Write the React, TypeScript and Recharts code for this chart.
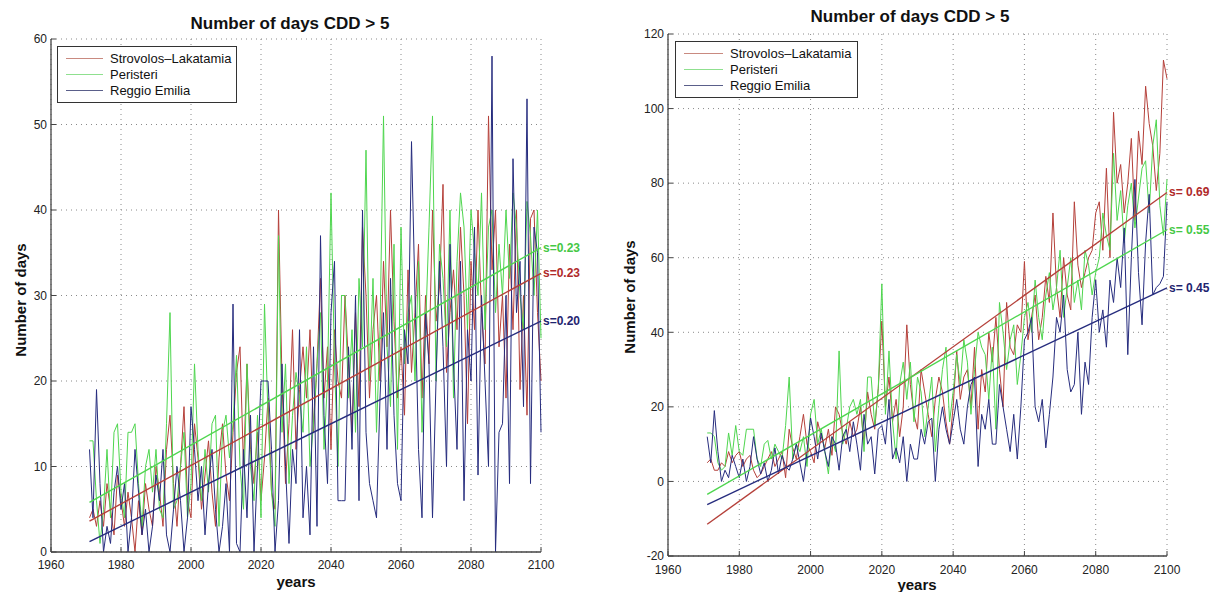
import React from "react";
import { LineChart, Line, XAxis, YAxis, CartesianGrid, Legend, LabelList } from "recharts";

// years 1971..2100
const YEARS = Array.from({ length: 130 }, (_, i) => 1971 + i);
const X_TICKS = [1960, 1980, 2000, 2020, 2040, 2060, 2080, 2100];
const LEFT_Y_TICKS = [0, 10, 20, 30, 40, 50, 60];
const RIGHT_Y_TICKS = [-20, 0, 20, 40, 60, 80, 100, 120];
const TREND_YEARS = [1971, 2100];

const NAMES = ["Strovolos\u2013Lakatamia", "Peristeri", "Reggio Emilia"];
const COLORS = ["#b5403a", "#4fd64f", "#262c7e"];
const LEGEND_COLORS = ["#c98a80", "#8fe08f", "#5a5f8a"];
const LABEL_COLORS = ["#b02a2a", "#45c845", "#1f2570"];

// left panel
const LEFT_STROVOLOS = [
  4, 5, 3, 6, 3, 8, 5, 2, 9, 6,
  3, 7, 4, 0, 6, 2, 8, 5, 3, 10,
  7, 3, 12, 16, 8, 3, 10, 17, 6, 4,
  15, 11, 5, 9, 13, 7, 3, 11, 15, 9,
  6, 14, 21, 24, 10, 22, 12, 8, 14, 6,
  11, 18, 7, 5, 40, 20, 8, 15, 26, 12,
  19, 24, 18, 26, 14, 22, 32, 18, 24, 12,
  26, 20, 18, 30, 22, 14, 28, 17, 38, 30,
  18, 26, 30, 20, 34, 24, 40, 27, 18, 24,
  16, 33, 21, 28, 36, 18, 30, 22, 40, 27,
  31, 43, 21, 28, 33, 26, 38, 30, 15, 34,
  26, 40, 28, 22, 51, 33, 40, 24, 30, 18,
  36, 26, 40, 19, 30, 16, 39, 40, 28, 20,
];
const LEFT_PERISTERI = [
  13, 13, 6, 1, 5, 12, 4, 14, 15, 7,
  4, 14, 14, 15, 8, 3, 10, 12, 7, 12,
  5, 4, 15, 28, 5, 6, 10, 14, 4, 8,
  22, 12, 6, 12, 7, 15, 16, 3, 14, 16,
  11, 15, 23, 10, 5, 22, 10, 6, 16, 4,
  29, 16, 7, 3, 37, 14, 22, 8, 16, 21,
  18, 14, 24, 10, 15, 22, 28, 12, 20, 42,
  22, 10, 30, 30, 18, 26, 14, 32, 24, 47,
  20, 32, 14, 26, 51, 24, 17, 36, 12, 38,
  22, 28, 30, 20, 34, 14, 26, 38, 51, 20,
  36, 32, 24, 40, 18, 34, 42, 38, 26, 40,
  35, 30, 42, 26, 38, 40, 28, 36, 30, 40,
  32, 42, 38, 30, 26, 41, 37, 30, 40, 25,
];
const LEFT_REGGIO = [
  12, 4, 19, 8, 0, 3, 1, 7, 10, 5,
  8, 0, 4, 12, 7, 2, 5, 0, 3, 9,
  6, 12, 2, 0, 5, 10, 6, 0, 4, 17,
  12, 6, 10, 2, 8, 12, 5, 0, 3, 8,
  0, 29, 1, 0, 12, 4, 16, 0, 10, 20,
  20, 20, 12, 0, 6, 22, 10, 1, 12, 8,
  26, 4, 10, 2, 24, 3, 37, 16, 8, 28,
  34, 6, 6, 6, 24, 12, 30, 6, 40, 14,
  8, 6, 4, 18, 28, 12, 32, 16, 8, 6,
  26, 22, 48, 30, 12, 4, 28, 22, 4, 20,
  34, 24, 10, 36, 22, 12, 34, 6, 26, 20,
  38, 9, 30, 20, 10, 58, 0, 14, 15, 30,
  8, 46, 28, 34, 17, 53, 8, 38, 35, 14,
];
const LEFT_TREND_STROVOLOS = [3.6, 32.6];
const LEFT_TREND_PERISTERI = [5.8, 35.6];
const LEFT_TREND_REGGIO = [1.2, 27.0];
const LEFT_SLOPES = ["s=0.23", "s=0.23", "s=0.20"];

// right panel
const RIGHT_STROVOLOS = [
  5, 6, 3, 3, 5, 4, 8, 5, 7, 8,
  4, 6, 7, 3, 1, 2, 4, 6, 8, 4,
  6, 8, 1, 14, 9, 6, 12, 18, 10, 8,
  5, 16, 12, 9, 14, 7, 20, 18, 13, 10,
  16, 12, 14, 20, 10, 24, 18, 14, 25, 43,
  20, 28, 16, 22, 12, 20, 42, 26, 18, 14,
  30, 24, 18, 12, 22, 28, 24, 16, 10, 20,
  35, 22, 28, 30, 20, 36, 14, 30, 24, 40,
  32, 44, 30, 20, 48, 36, 34, 42, 40, 59,
  38, 44, 50, 38, 44, 55, 48, 72, 52, 44,
  60, 50, 46, 75, 58, 52, 56, 60, 62, 72,
  75, 62, 84, 60, 99, 80, 85, 72, 80, 92,
  70, 94, 85, 106, 96, 90, 78, 88, 113, 108,
];
const RIGHT_PERISTERI = [
  13, 13, 12, 5, 3, 4, 13, 7, 15, 8,
  7, 14, 14, 14, 6, 4, 10, 11, 6, 10,
  8, 6, 15, 28, 6, 10, 8, 12, 4, 18,
  22, 10, 14, 8, 2, 12, 8, 35, 10, 14,
  20, 22, 18, 22, 8, 28, 28, 15, 25, 53,
  18, 35, 16, 6, 26, 32, 22, 32, 16, 28,
  24, 12, 20, 28, 8, 20, 30, 36, 16, 24,
  34, 26, 38, 32, 18, 30, 40, 36, 34, 22,
  36, 14, 48, 40, 30, 38, 42, 26, 34, 44,
  48, 40, 54, 44, 38, 50, 56, 46, 52, 62,
  44, 52, 60, 48, 54, 46, 62, 58, 50, 56,
  60, 72, 66, 62, 88, 70, 78, 64, 74, 80,
  68, 76, 84, 86, 72, 90, 97, 74, 66, 81,
];
const RIGHT_REGGIO = [
  12, 5, 19, 8, 0, 3, 1, 7, 4, 1,
  6, 0, 4, 12, 6, 2, 5, 0, 3, 9,
  2, 7, 4, 3, 6, 10, 5, 0, 8, 17,
  12, 6, 13, 8, 4, 12, 10, 3, 12, 14,
  8, 16, 10, 3, 18, 10, 12, 2, 14, 15,
  10, 22, 6, 9, 5, 12, 0, 10, 6, 6,
  14, 10, 16, 17, 0, 14, 20, 14, 10, 16,
  22, 14, 10, 20, 26, 28, 4, 18, 14, 22,
  10, 10, 26, 20, 14, 8, 18, 6, 20, 38,
  40, 44, 20, 16, 22, 9, 18, 28, 44, 40,
  50, 30, 24, 26, 40, 18, 32, 26, 44, 54,
  40, 46, 36, 54, 48, 60, 52, 68, 34, 60,
  81, 56, 42, 64, 77, 50, 52, 53, 55, 75,
];
const RIGHT_TREND_STROVOLOS = [-11.5, 77.5];
const RIGHT_TREND_PERISTERI = [-3.5, 67.5];
const RIGHT_TREND_REGGIO = [-6.2, 51.9];
const RIGHT_SLOPES = ["s= 0.69", "s= 0.55", "s= 0.45"];

const FONT = "'Liberation Sans', Arial, Helvetica, sans-serif";

function buildRows(a: number[], b: number[], c: number[]) {
  return YEARS.map((year, i) => ({ year, s0: a[i], s1: b[i], s2: c[i] }));
}
function buildTrend(v: number[]) {
  return TREND_YEARS.map((year, i) => ({ year, value: v[i] }));
}

// matlab-style legend box, always in series order
function LegendBox({ boxWidth, swatch }: { boxWidth: number; swatch: number }) {
  return (
    <div
      style={{
        border: "1px solid #333",
        background: "#fff",
        width: boxWidth,
        boxSizing: "border-box",
        padding: "3px 0 4px 8px",
        fontFamily: FONT,
        fontSize: 13,
        color: "#111",
      }}
    >
      {NAMES.map((name, k) => (
        <div key={name} style={{ display: "flex", alignItems: "center", height: 16 }}>
          <span
            style={{
              display: "inline-block",
              width: swatch,
              borderTop: `1.5px solid ${LEGEND_COLORS[k]}`,
              marginRight: 7,
            }}
          />
          <span style={{ whiteSpace: "nowrap" }}>{name}</span>
        </div>
      ))}
    </div>
  );
}

function slopeLabel(text: string, color: string) {
  return (props: any) => {
    if (props.index !== 1) return null;
    return (
      <text
        x={props.x + 2}
        y={props.y}
        dy={4}
        fill={color}
        fontFamily={FONT}
        fontWeight="bold"
        fontSize={12}
      >
        {text}
      </text>
    );
  };
}

function Caption({
  x,
  y,
  text,
  size,
  rotate,
}: {
  x: number;
  y: number;
  text: string;
  size: number;
  rotate?: boolean;
}) {
  return (
    <div
      style={{
        position: "absolute",
        left: x,
        top: y,
        transform: `translate(-50%, -50%)${rotate ? " rotate(-90deg)" : ""}`,
        whiteSpace: "nowrap",
        fontFamily: FONT,
        fontWeight: "bold",
        fontSize: size,
        color: "#111",
      }}
    >
      {text}
    </div>
  );
}

function Panel({
  left,
  width,
  margin,
  yTicks,
  series,
  trends,
  slopes,
  legendPos,
  legendWidth,
  swatch,
  xTickMargin,
}: {
  left: number;
  width: number;
  margin: { top: number; right: number; bottom: number; left: number };
  yTicks: number[];
  series: number[][];
  trends: number[][];
  slopes: string[];
  legendPos: { left: number; top: number };
  legendWidth: number;
  swatch: number;
  xTickMargin: number;
}) {
  const rows = buildRows(series[0], series[1], series[2]);
  const tickStyle = { fontSize: 12, fill: "#222", fontFamily: FONT };
  return (
    <div style={{ position: "absolute", left, top: 0 }}>
      <LineChart width={width} height={592} data={rows} margin={margin}>
        <CartesianGrid stroke="#8a8a8a" strokeDasharray="1 4" />
        <XAxis
          dataKey="year"
          type="number"
          domain={[1960, 2100]}
          ticks={X_TICKS}
          interval={0}
          height={30}
          tick={tickStyle}
          tickSize={-5}
          tickMargin={xTickMargin}
          axisLine={{ stroke: "#444", strokeWidth: 1.3 }}
          tickLine={{ stroke: "#444" }}
        />
        <YAxis
          type="number"
          domain={[yTicks[0], yTicks[yTicks.length - 1]]}
          ticks={yTicks}
          interval={0}
          width={40}
          tick={tickStyle}
          tickSize={-5}
          tickMargin={9}
          axisLine={{ stroke: "#444", strokeWidth: 1.3 }}
          tickLine={{ stroke: "#444" }}
        />
        <Legend
          layout="vertical"
          align="center"
          verticalAlign="middle"
          wrapperStyle={{ left: legendPos.left, top: legendPos.top, width: legendWidth }}
          content={() => <LegendBox boxWidth={legendWidth} swatch={swatch} />}
        />
        {[0, 1, 2].map((k) => (
          <Line
            key={"s" + k}
            dataKey={"s" + k}
            name={NAMES[k]}
            stroke={COLORS[k]}
            strokeWidth={1}
            dot={false}
            isAnimationActive={false}
          />
        ))}
        {[0, 1, 2].map((k) => (
          <Line
            key={"t" + k}
            data={buildTrend(trends[k])}
            dataKey="value"
            name={"trend" + k}
            legendType="none"
            stroke={COLORS[k]}
            strokeWidth={1.4}
            dot={false}
            isAnimationActive={false}
          >
            <LabelList dataKey="value" content={slopeLabel(slopes[k], LABEL_COLORS[k])} />
          </Line>
        ))}
      </LineChart>
    </div>
  );
}

export default function App() {
  return (
    <div
      style={{
        position: "absolute",
        left: 0,
        top: 0,
        width: 1222,
        height: 592,
        background: "#fff",
        overflow: "hidden",
      }}
    >
      <Panel
        left={0}
        width={600}
        margin={{ top: 39, right: 59, bottom: 10, left: 11 }}
        yTicks={LEFT_Y_TICKS}
        series={[LEFT_STROVOLOS, LEFT_PERISTERI, LEFT_REGGIO]}
        trends={[LEFT_TREND_STROVOLOS, LEFT_TREND_PERISTERI, LEFT_TREND_REGGIO]}
        slopes={LEFT_SLOPES}
        legendPos={{ left: 57, top: 46 }}
        legendWidth={180}
        swatch={37}
        xTickMargin={13}
      />
      <Panel
        left={600}
        width={622}
        margin={{ top: 34, right: 55, bottom: 6, left: 28 }}
        yTicks={RIGHT_Y_TICKS}
        series={[RIGHT_STROVOLOS, RIGHT_PERISTERI, RIGHT_REGGIO]}
        trends={[RIGHT_TREND_STROVOLOS, RIGHT_TREND_PERISTERI, RIGHT_TREND_REGGIO]}
        slopes={RIGHT_SLOPES}
        legendPos={{ left: 75, top: 41 }}
        legendWidth={183}
        swatch={39}
        xTickMargin={14}
      />
      <Caption x={290} y={24} text="Number of days CDD > 5" size={17} />
      <Caption x={910} y={17} text="Number of days CDD > 5" size={17} />
      <Caption x={20} y={300} text="Number of days" size={15} rotate />
      <Caption x={629} y={297} text="Number of days" size={15} rotate />
      <Caption x={296} y={581} text="years" size={15} />
      <Caption x={917} y={584} text="years" size={15} />
    </div>
  );
}
